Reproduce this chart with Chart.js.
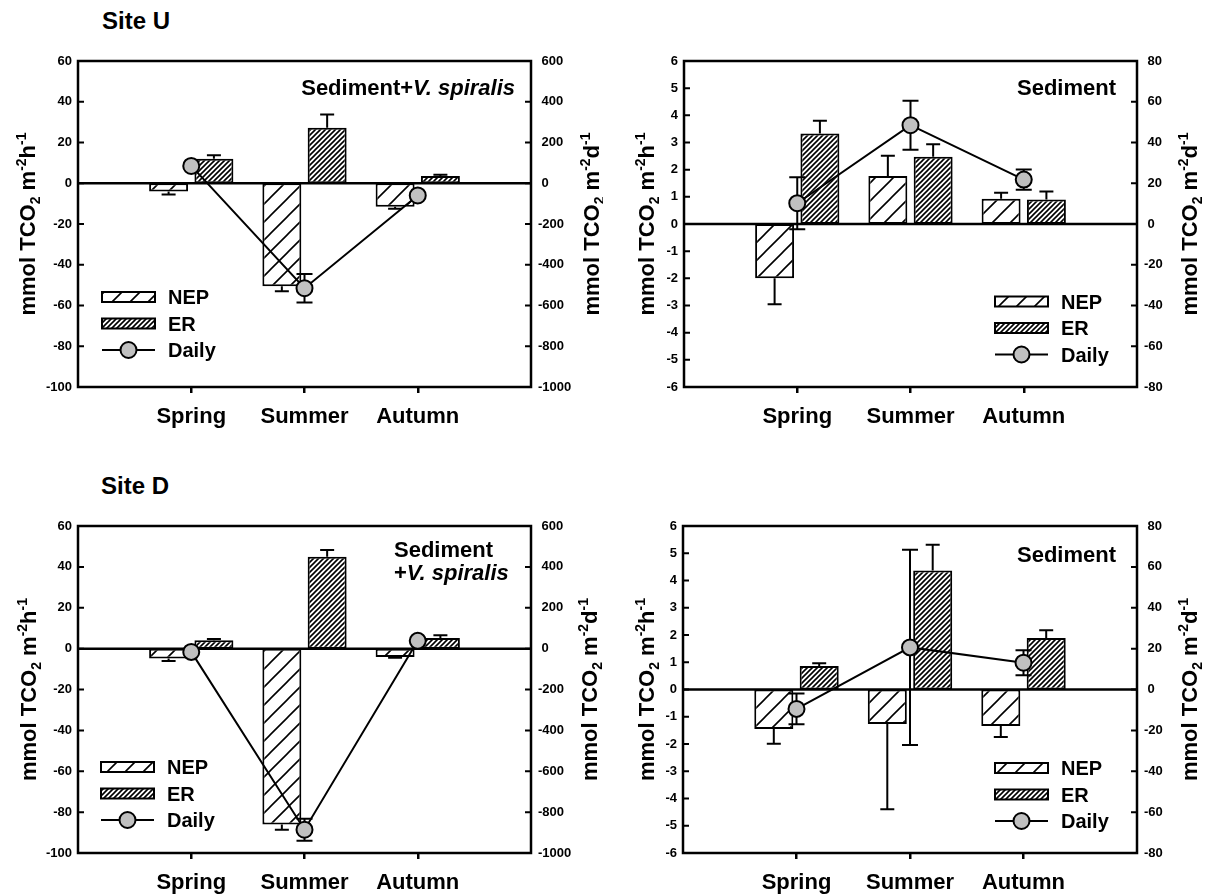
<!DOCTYPE html>
<html>
<head>
<meta charset="utf-8">
<script src="https://cdn.jsdelivr.net/npm/chart.js@4.4.1/dist/chart.umd.min.js"></script>
<style>
  html, body { margin: 0; padding: 0; background: #fff; }
  body { width: 1206px; height: 895px; position: relative; overflow: hidden; }
  canvas { position: absolute; }
  .site { position: absolute; font: bold 24px "Liberation Sans", Arial, sans-serif; line-height: 24px; color: #000; }
</style>
</head>
<body>
<div class="site" style="left:102px; top:9px;">Site U</div>
<div class="site" style="left:101px; top:474px;">Site D</div>
<canvas id="c1" width="603" height="447" style="left:0px; top:0px;"></canvas>
<canvas id="c2" width="603" height="447" style="left:603px; top:0px;"></canvas>
<canvas id="c3" width="603" height="448" style="left:0px; top:447px;"></canvas>
<canvas id="c4" width="603" height="448" style="left:603px; top:447px;"></canvas>
<script>
const FAM = '"Liberation Sans", Arial, sans-serif';
Chart.defaults.font.family = FAM;
Chart.defaults.color = '#000';

const seasons = ['Spring', 'Summer', 'Autumn'];

// Site U, Sediment + V. spiralis (bars: mmol m-2 h-1, daily: mmol m-2 d-1)
const uVegNep = [-4.0, -50.5, -11.5];
const uVegNepErr = [1.5, 2.5, 1.0];
const uVegEr = [12.0, 27.3, 3.6];
const uVegErErr = [1.8, 6.4, 0.6];
const uVegDaily = [85, -515, -60];
const uVegDailyErr = [0, 70, 0];

// Site U, Sediment
const uSedNep = [-2.0, 1.77, 0.93];
const uSedNepErr = [0.95, 0.74, 0.22];
const uSedEr = [3.33, 2.48, 0.90];
const uSedErErr = [0.47, 0.46, 0.30];
const uSedDaily = [10.2, 48.5, 21.8];
const uSedDailyErr = [12.8, 12.0, 5.0];

// Site D, Sediment + V. spiralis
const dVegNep = [-4.8, -86.1, -4.1];
const dVegNepErr = [1.3, 2.5, 0.4];
const dVegEr = [4.1, 44.9, 5.2];
const dVegErErr = [0.6, 3.3, 1.3];
const dVegDaily = [-16, -886, 38];
const dVegDailyErr = [0, 54, 0];

// Site D, Sediment
const dSedNep = [-1.45, -1.27, -1.34];
const dSedNepErr = [0.54, 3.12, 0.40];
const dSedEr = [0.86, 4.37, 1.89];
const dSedErErr = [0.10, 0.94, 0.28];
const dSedDaily = [-9.5, 20.6, 13.1];
const dSedDailyErr = [7.5, 47.8, 6.1];

function hatch(step, lw) {
	const c = document.createElement('canvas');
	c.width = step; c.height = step;
	const g = c.getContext('2d');
	g.fillStyle = '#fff';
	g.fillRect(0, 0, step, step);
	g.strokeStyle = '#000';
	g.lineWidth = lw;
	g.beginPath();
	g.moveTo(-1, step + 1); g.lineTo(step + 1, -1);
	g.moveTo(-2, 2); g.lineTo(2, -2);
	g.moveTo(step - 2, step + 2); g.lineTo(step + 2, step - 2);
	g.stroke();
	return g.createPattern(c, 'repeat');
}
const nepFill = hatch(18, 1.6);
const erFill = hatch(5, 1.6);

const pad = a => [null].concat(a, [null]);

function drawParts(ctx, parts, x, y, align) {
	let w = 0;
	parts.forEach(p => { ctx.font = p.font; w += ctx.measureText(p.t).width; });
	let cx = align === 'right' ? x - w : (align === 'center' ? x - w / 2 : x);
	ctx.textAlign = 'left';
	ctx.textBaseline = 'alphabetic';
	parts.forEach(p => {
		ctx.font = p.font;
		ctx.fillText(p.t, cx, y + (p.dy || 0));
		cx += ctx.measureText(p.t).width;
	});
}

const big = 'bold 22px ' + FAM;
const small = 'bold 14px ' + FAM;
const ital = 'italic bold 22px ' + FAM;
function unitTitle(per) {
	return [
		{t: 'mmol TCO', font: big}, {t: '2', font: small, dy: 5},
		{t: ' m', font: big}, {t: '-2', font: small, dy: -9},
		{t: per, font: big}, {t: '-1', font: small, dy: -9}
	];
}

function panelPlugin(p) {
	return {
		id: 'panel',
		beforeDatasetsDraw(chart) {
			const a = chart.chartArea, ctx = chart.ctx;
			const y0 = chart.scales.y.getPixelForValue(0);
			ctx.save();
			ctx.strokeStyle = '#000';
			ctx.lineWidth = 2.5;
			ctx.beginPath(); ctx.moveTo(a.left, y0); ctx.lineTo(a.right, y0); ctx.stroke();
			ctx.restore();
		},
		beforeDatasetDraw(chart, args) {
			if (chart.data.datasets[args.index].type !== 'line') return;
			const ctx = chart.ctx;
			ctx.save();
			ctx.strokeStyle = '#000';
			ctx.lineWidth = 2;
			chart.data.datasets.forEach((ds, i) => {
				const meta = chart.getDatasetMeta(i);
				const sc = chart.scales[ds.yAxisID];
				const isLine = ds.type === 'line';
				const cap = isLine ? 8 : 7;
				ds.data.forEach((v, j) => {
					const e = ds.err[j];
					if (v == null || !e) return;
					const x = meta.data[j].x;
					const hi = isLine ? v + e : (v >= 0 ? v + e : v);
					const lo = isLine ? v - e : (v >= 0 ? v : v - e);
					const y1 = sc.getPixelForValue(hi), y2 = sc.getPixelForValue(lo);
					ctx.beginPath();
					ctx.moveTo(x, y1); ctx.lineTo(x, y2);
					if (isLine || v >= 0) { ctx.moveTo(x - cap, y1); ctx.lineTo(x + cap, y1); }
					if (isLine || v < 0) { ctx.moveTo(x - cap, y2); ctx.lineTo(x + cap, y2); }
					ctx.stroke();
				});
			});
			ctx.restore();
		},
		afterDraw(chart) {
			const a = chart.chartArea, ctx = chart.ctx;
			ctx.save();
			ctx.strokeStyle = '#000';
			ctx.fillStyle = '#000';
			ctx.lineWidth = 2.5;
			ctx.strokeRect(a.left, a.top, a.right - a.left, a.bottom - a.top);
			// inward tick marks on both y axes
			ctx.lineWidth = 2;
			ctx.beginPath();
			chart.scales.y.ticks.forEach(t => {
				const y = chart.scales.y.getPixelForValue(t.value);
				ctx.moveTo(a.left, y); ctx.lineTo(a.left + 6, y);
			});
			chart.scales.y2.ticks.forEach(t => {
				const y = chart.scales.y2.getPixelForValue(t.value);
				ctx.moveTo(a.right - 6, y); ctx.lineTo(a.right, y);
			});
			ctx.stroke();

			// rotated axis titles
			const cy = (a.top + a.bottom) / 2;
			[[p.leftTitleX, 'h'], [p.rightTitleX, 'd']].forEach(([x, per]) => {
				ctx.save();
				ctx.translate(x, cy);
				ctx.rotate(-Math.PI / 2);
				drawParts(ctx, unitTitle(per), 0, 0, 'center');
				ctx.restore();
			});

			// annotation
			p.note.forEach(n => drawParts(ctx, n.parts, n.x, n.y, n.align));

			// legend
			const lg = p.legend;
			chart.data.datasets.forEach((ds, i) => {
				const ry = lg.y + i * 26.5;
				if (ds.type === 'line') {
					ctx.lineWidth = 2;
					ctx.beginPath(); ctx.moveTo(lg.x, ry); ctx.lineTo(lg.x + 53, ry); ctx.stroke();
					ctx.beginPath(); ctx.arc(lg.x + 26.5, ry, 8, 0, Math.PI * 2);
					ctx.fillStyle = ds.pointBackgroundColor; ctx.fill(); ctx.stroke();
				} else {
					ctx.fillStyle = ds.backgroundColor;
					ctx.fillRect(lg.x, ry - 5, 53, 10);
					ctx.lineWidth = 2;
					ctx.strokeRect(lg.x, ry - 5, 53, 10);
				}
				ctx.fillStyle = '#000';
				ctx.font = 'bold 20px ' + FAM;
				ctx.textAlign = 'left';
				ctx.textBaseline = 'alphabetic';
				ctx.fillText(ds.label, lg.x + 66, ry + 7.2);
			});
			ctx.restore();
		}
	};
}

function makePanel(id, p) {
	const cv = document.getElementById(id);
	const W = cv.width, H = cv.height;
	return new Chart(cv, {
		type: 'bar',
		data: {
			labels: [''].concat(seasons, ['']),
			datasets: [
				{label: 'NEP', data: pad(p.nep), err: pad(p.nepErr), yAxisID: 'y', order: 1,
					backgroundColor: nepFill, borderColor: '#000', borderWidth: 2, borderSkipped: false},
				{label: 'ER', data: pad(p.er), err: pad(p.erErr), yAxisID: 'y', order: 2,
					backgroundColor: erFill, borderColor: '#000', borderWidth: 2, borderSkipped: false},
				{type: 'line', label: 'Daily', data: pad(p.daily), err: pad(p.dailyErr), yAxisID: 'y2', order: 0,
					borderColor: '#000', borderWidth: 2, tension: 0,
					pointRadius: 8, pointHoverRadius: 8, pointBackgroundColor: '#c0c0c0',
					pointBorderColor: '#000', pointBorderWidth: 2}
			]
		},
		options: {
			responsive: false,
			animation: false,
			events: [],
			categoryPercentage: 0.8,
			barPercentage: 0.86,
			layout: {padding: {top: p.top, left: 0, right: 0, bottom: 0}},
			plugins: {legend: {display: false}, tooltip: {enabled: false}},
			scales: {
				x: {
					offset: false,
					grid: {
						offset: false, drawOnChartArea: false, drawTicks: true, tickLength: 6, lineWidth: 2.5,
						color: c => (c.tick && c.tick.label) ? '#000' : 'rgba(0,0,0,0)'
					},
					border: {display: false},
					ticks: {autoSkip: false, maxRotation: 0, padding: 11, font: {size: 22, weight: 'bold'}},
					afterFit: s => { s.height = H - p.bottom; }
				},
				y: {
					position: 'left', min: p.yMin, max: p.yMax,
					grid: {display: false, drawTicks: false}, border: {display: false},
					ticks: {stepSize: p.yStep, padding: 6, font: {size: 13, weight: 'bold'}},
					afterFit: s => { s.width = p.left; }
				},
				y2: {
					position: 'right', min: p.y2Min, max: p.y2Max,
					grid: {display: false, drawTicks: false}, border: {display: false},
					ticks: {stepSize: p.y2Step, padding: 7, font: {size: 13, weight: 'bold'},
						callback: v => (v < 0 ? '' : ' ') + v},
					afterFit: s => { s.width = W - p.right; }
				}
			}
		},
		plugins: [panelPlugin(p)]
	});
}

const vegNoteOneLine = [{x: 515, y: 95, align: 'right', parts: [
	{t: 'Sediment+', font: big}, {t: 'V. spiralis', font: ital}]}];
const vegNoteTwoLines = [
	{x: 394, y: 110, align: 'left', parts: [{t: 'Sediment', font: big}]},
	{x: 394, y: 133, align: 'left', parts: [{t: '+', font: big}, {t: 'V. spiralis', font: ital}]}
];
const sedNote = y => [{x: 513, y: y, align: 'right', parts: [{t: 'Sediment', font: big}]}];

makePanel('c1', {
	nep: uVegNep, nepErr: uVegNepErr, er: uVegEr, erErr: uVegErErr, daily: uVegDaily, dailyErr: uVegDailyErr,
	yMin: -100, yMax: 60, yStep: 20, y2Min: -1000, y2Max: 600, y2Step: 200,
	left: 78, right: 531, top: 61, bottom: 387,
	leftTitleX: 35, rightTitleX: 599, note: vegNoteOneLine, legend: {x: 102, y: 297}
});
makePanel('c2', {
	nep: uSedNep, nepErr: uSedNepErr, er: uSedEr, erErr: uSedErErr, daily: uSedDaily, dailyErr: uSedDailyErr,
	yMin: -6, yMax: 6, yStep: 1, y2Min: -80, y2Max: 80, y2Step: 20,
	left: 81, right: 534, top: 61, bottom: 387,
	leftTitleX: 51, rightTitleX: 594, note: sedNote(95), legend: {x: 392, y: 301.5}
});
makePanel('c3', {
	nep: dVegNep, nepErr: dVegNepErr, er: dVegEr, erErr: dVegErErr, daily: dVegDaily, dailyErr: dVegDailyErr,
	yMin: -100, yMax: 60, yStep: 20, y2Min: -1000, y2Max: 600, y2Step: 200,
	left: 78, right: 531, top: 79, bottom: 406,
	leftTitleX: 36, rightTitleX: 597, note: vegNoteTwoLines, legend: {x: 101, y: 320}
});
makePanel('c4', {
	nep: dSedNep, nepErr: dSedNepErr, er: dSedEr, erErr: dSedErErr, daily: dSedDaily, dailyErr: dSedDailyErr,
	yMin: -6, yMax: 6, yStep: 1, y2Min: -80, y2Max: 80, y2Step: 20,
	left: 80, right: 534, top: 79, bottom: 406,
	leftTitleX: 51, rightTitleX: 594, note: sedNote(115), legend: {x: 392, y: 321}
});
</script>
</body>
</html>
